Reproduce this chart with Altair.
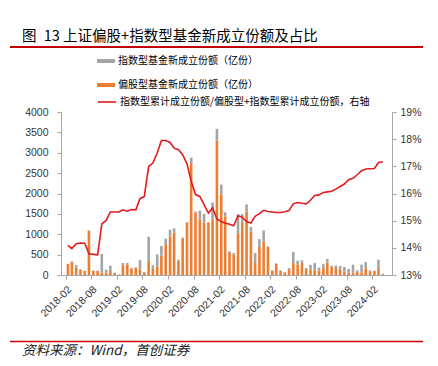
import altair as alt
import pandas as pd

# ---------------- data ----------------
months = [f"{2018 + (1 + k) // 12}-{(1 + k) % 12 + 1:02d}" for k in range(75)]

# 偏股型基金新成立份额（亿份）
equity = [270, 327, 172, 125, 100, 1090, 100, 100, 60, 60,
          100, 50, 10, 240, 262, 165, 180, 140, 50, 344,
          150, 210, 474, 736, 949, 1047, 340, 892, 1292, 2750,
          1530, 1360, 1290, 1292, 1370, 3300, 1971, 1440, 540, 500,
          1020, 1276, 1562, 1072, 294, 687, 826, 687, 106, 278,
          106, 65, 130, 294, 254, 300, 150, 130, 130, 110,
          170, 310, 200, 170, 140, 90, 60, 60, 80, 60,
          164, 90, 98, 147, 20]

# 指数型基金新成立份额（亿份）
index_f = [5, 5, 73, 15, 6, 6, 6, 6, 455, 71,
           129, 7, 6, 54, 32, 7, 8, 230, 25, 596,
           87, 295, 238, 156, 161, 98, 36, 32, 8, 130,
           30, 220, 210, 8, 410, 285, 249, 98, 41, 40,
           470, 221, 172, 106, 246, 193, 269, 16, 9, 7,
           9, 9, 42, 270, 98, 60, 22, 120, 164, 70,
           95, 83, 29, 59, 81, 106, 87, 194, 35, 194,
           155, 25, 5, 229, 10]

# 指数型累计成立份额/偏股型+指数型累计成立份额（%，右轴）
ratio = [14.09, 13.97, 14.15, 14.18, 14.17, 13.78, 13.76, 13.74, 14.88, 15.01,
         15.32, 15.32, 15.32, 15.40, 15.35, 15.41, 15.40, 15.81, 15.89, 17.00,
         17.12, 17.49, 17.95, 17.95, 17.88, 17.67, 17.61, 17.43, 17.09, 16.45,
         15.96, 15.89, 15.59, 15.28, 15.47, 15.06, 14.97, 14.91, 14.87, 14.81,
         15.18, 15.13, 14.97, 14.91, 15.16, 15.26, 15.38, 15.34, 15.32, 15.30,
         15.30, 15.33, 15.37, 15.62, 15.67, 15.64, 15.62, 15.75, 15.93, 15.95,
         16.04, 16.06, 16.08, 16.16, 16.26, 16.35, 16.51, 16.56, 16.69, 16.84,
         16.90, 16.91, 16.92, 17.14, 17.17]

S_INDEX = "指数型基金新成立份额（亿份）"
S_EQUITY = "偏股型基金新成立份额（亿份）"
S_RATIO = "指数型累计成立份额/偏股型+指数型累计成立份额，右轴"
TITLE = "图\u200213 上证偏股+指数型基金新成立份额及占比"
SOURCE = "资料来源：Wind，首创证券"

tick_labels = ["2018-02", "2018-08", "2019-02", "2019-08", "2020-02", "2020-08",
               "2021-02", "2021-08", "2022-02", "2022-08", "2023-02", "2023-08", "2024-02"]

# ---------------- tables ----------------
dates = [m + "-15" for m in months]
bars_df = pd.DataFrame({
    "date": dates * 2,
    "series": [S_EQUITY] * len(dates) + [S_INDEX] * len(dates),
    "value": equity + index_f,
    "ord": [0] * len(dates) + [1] * len(dates),
})
line_df = pd.DataFrame({"date": dates, "ratio": ratio, "series": [S_RATIO] * len(dates)})

FONT = "Noto Sans CJK SC"
NUMFONT = "Liberation Sans"
AXIS_GRAY = "#A6A6A6"

tick_vals = [alt.DateTime(year=int(t[:4]), month=int(t[5:]), date=1, utc=True) for t in tick_labels]
x_scale = alt.Scale(type="utc",
                    domain=[alt.DateTime(year=2018, month=2, date=1, utc=True),
                            alt.DateTime(year=2024, month=5, date=15, utc=True)])
x_axis = alt.Axis(values=tick_vals, labelExpr="utcFormat(datum.value, '%Y-%m')",
                  labelAngle=315, labelOverlap=False, labelFont=NUMFONT,
                  labelFontSize=10.5, labelColor="#333333", domainColor=AXIS_GRAY,
                  tickColor=AXIS_GRAY, tickSize=4, grid=False, labelPadding=5)

bars = alt.Chart(bars_df).mark_bar(size=2.6).encode(
    x=alt.X("date:T", scale=x_scale, title=None, axis=x_axis),
    y=alt.Y("sum(value):Q", stack="zero", title=None,
            scale=alt.Scale(domain=[0, 4000], nice=False),
            axis=alt.Axis(values=list(range(0, 4001, 500)), format="d", labelFont=NUMFONT,
                          labelFontSize=10.5, labelColor="#333333", domainColor=AXIS_GRAY,
                          tickColor=AXIS_GRAY, tickSize=4, labelPadding=9, grid=False)),
    color=alt.Color("series:N",
                    scale=alt.Scale(domain=[S_INDEX, S_EQUITY], range=["#A5A5A5", "#ED7D31"]),
                    legend=alt.Legend(title=None, orient="none", legendX=36, legendY=-60,
                                      direction="vertical", symbolType="M-1,-0.22H1V0.22H-1Z",
                                      symbolSize=324, symbolStrokeWidth=0, rowPadding=10,
                                      labelFont=FONT, labelFontSize=10, labelColor="#000000",
                                      labelOffset=3, labelLimit=400, padding=0)),
    order=alt.Order("ord:Q", sort="ascending"),
)

line = alt.Chart(line_df).mark_line(strokeWidth=1.6).encode(
    x=alt.X("date:T", scale=x_scale, title=None, axis=x_axis),
    y=alt.Y("ratio:Q", title=None, scale=alt.Scale(domain=[13, 19], nice=False),
            axis=alt.Axis(orient="right", values=list(range(13, 20)),
                          labelExpr="datum.value + '%'", labelFont=NUMFONT, labelFontSize=10.5,
                          labelColor="#333333", domainColor=AXIS_GRAY, tickColor=AXIS_GRAY,
                          tickSize=4, labelPadding=4, grid=False)),
    stroke=alt.Stroke("series:N", scale=alt.Scale(domain=[S_RATIO], range=["#E31A1C"]),
                      legend=alt.Legend(title=None, orient="none", legendX=36, legendY=-20,
                                        symbolType="stroke", symbolSize=324, symbolStrokeWidth=1.6,
                                        labelFont=FONT, labelFontSize=10, labelColor="#000000",
                                        labelOffset=3, labelLimit=400, padding=0)),
)

title_t = alt.Chart(pd.DataFrame({"t": [TITLE]})).mark_text(
    align="left", baseline="middle", font=FONT, fontSize=14.5, color="#000000"
).encode(x=alt.value(-39), y=alt.value(-75), text="t:N")

source_t = alt.Chart(pd.DataFrame({"t": [SOURCE]})).mark_text(
    align="left", baseline="middle", font=FONT, fontSize=13.5, fontStyle="italic", color="#222222"
).encode(x=alt.value(-39), y=alt.value(239), text="t:N")

rule_top = alt.Chart(pd.DataFrame({"r": [0]})).mark_rule(color="#C00000", strokeWidth=2.2).encode(
    x=alt.value(-51), x2=alt.value(362), y=alt.value(-65))
rule_bot = alt.Chart(pd.DataFrame({"r": [0]})).mark_rule(color="#D00000", strokeWidth=1.5).encode(
    x=alt.value(-51), x2=alt.value(362), y=alt.value(229.5))

chart = alt.layer(bars, line, title_t, source_t, rule_top, rule_bot).resolve_scale(
    y="independent"
).properties(
    width=331, height=163,
    autosize=alt.AutoSizeParams(type="none"),
    padding={"left": 53, "top": 104, "right": 38, "bottom": 83},
    background="#FFFFFF",
).configure_view(stroke="transparent").configure_axisX(labelOverlap=False)

chart.save("out.html", embed_options={"renderer": "svg", "actions": False})
